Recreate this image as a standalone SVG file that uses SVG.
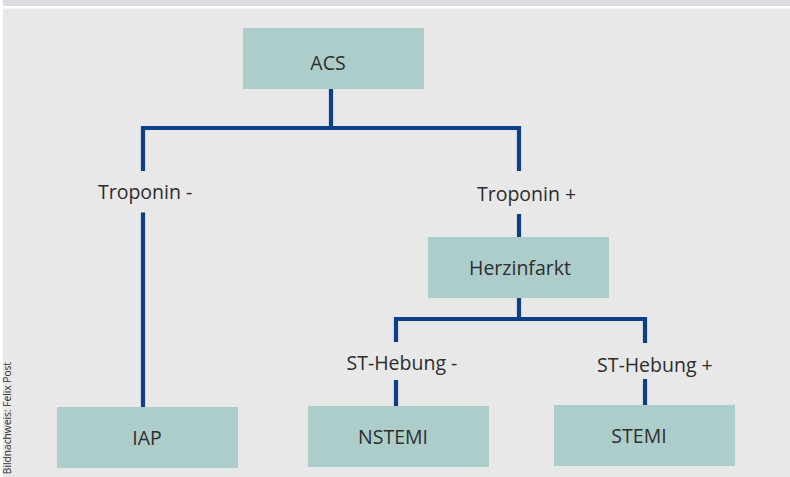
<svg xmlns="http://www.w3.org/2000/svg" width="790" height="477" viewBox="0 0 790 477">
<style>
.box{fill:#adcdca}
.lbl{font-family:"Open Sans","Liberation Sans",sans-serif;font-size:19.5px;fill:#2d2d2d}
.c{text-anchor:middle}
.con{fill:none;stroke:#0b3f88;stroke-width:4.2;stroke-linejoin:miter}
.credit{font-family:"Open Sans","Liberation Sans",sans-serif;font-size:10.2px;fill:#333}
</style>
<rect x="0" y="0" width="790" height="477" fill="#ffffff"/>
<rect x="3" y="0" width="787" height="6" fill="#dcdde0"/>
<rect x="3" y="8.5" width="787" height="468.5" fill="#e8e8e8"/>
<g id="connectors">
<path class="con" d="M331,89 V128 H143 V171"/>
<path class="con" d="M331,128 H519 V171"/>
<path class="con" d="M143,212.5 V407"/>
<path class="con" d="M519,214 V237"/>
<path class="con" d="M519,297.5 V319 H396 V342"/>
<path class="con" d="M519,319 H645 V343"/>
<path class="con" d="M396,380 V406"/>
<path class="con" d="M645,379 V405"/>
</g>
<g id="labels">
<text class="lbl" x="98" y="199">Troponin -</text>
<text class="lbl" x="477" y="201">Troponin +</text>
<text class="lbl" x="346.5" y="370">ST-Hebung -</text>
<text class="lbl" x="597" y="372">ST-Hebung +</text>
</g>
<g id="acs"><rect class="box" x="243" y="28" width="181" height="61"/><text class="lbl c" x="328" y="70">ACS</text></g>
<g id="herzinfarkt"><rect class="box" x="428" y="237" width="181" height="61"/><text class="lbl c" x="520" y="275">Herzinfarkt</text></g>
<g id="iap"><rect class="box" x="57" y="407" width="181" height="61"/><text class="lbl c" x="147" y="445">IAP</text></g>
<g id="nstemi"><rect class="box" x="308" y="406" width="181" height="61"/><text class="lbl c" x="393" y="444">NSTEMI</text></g>
<g id="stemi"><rect class="box" x="554" y="405" width="181" height="61"/><text class="lbl c" x="639" y="443">STEMI</text></g>
<text class="credit" transform="translate(10.6,362) rotate(-90)" text-anchor="end">Bildnachweis: Felix Post</text>
</svg>
